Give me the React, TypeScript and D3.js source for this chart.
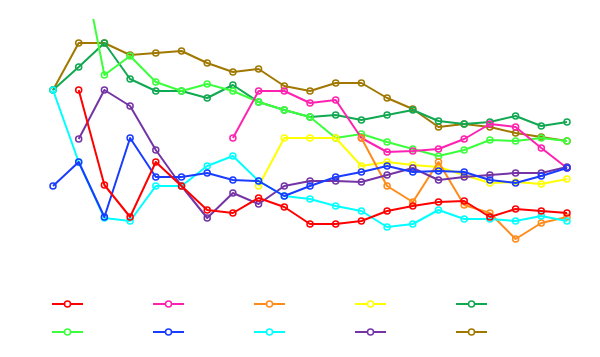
import React from "react";
import * as d3 from "d3";

const N = 21;
const xIndex: number[] = d3.range(N);

const red = [null,180,85,53,108,84,60,57,72,63,46,46,49,59,64,68,69,53,61,59,57];
const pink = [null,null,null,null,null,null,null,132,179,179,167,170,132,118,119,121,131,146,143,122,102];
const orange = [null,null,null,null,null,null,null,null,null,null,null,null,132,84,68,108,65,57,31,47,53];
const yellow = [null,null,null,null,null,null,null,null,84,132,132,132,104,108,105,103,95,87,88,86,91];
const darkGreen = [180,203,227,191,179,179,172,185,168,160,153,155,150,155,160,149,146,148,154,144,148];
const lightGreen = [null,325,195,214,188,179,186,179,168,160,153,132,136,128,121,114,120,130,129,132,129];
const blue = [84,108,53,132,93,93,97,90,89,74,84,93,98,104,98,99,98,90,87,94,102];
const cyan = [180,108,52,49,84,84,104,114,89,74,71,64,59,43,46,60,51,51,49,54,49];
const purple = [null,131,180,164,120,84,52,77,66,84,89,89,88,95,102,90,93,95,97,97,103];
const brown = [180,227,227,215,217,219,207,198,201,184,179,187,187,172,161,143,146,143,137,133,129];

const seriesNames = ["red","pink","orange","yellow","darkGreen","lightGreen","blue","cyan","purple","brown"];
const seriesColors = ["#ff0000","#ff22b0","#ff8c1a","#ffff00","#10a850","#3cff3c","#1a3cff","#00ffff","#7434a6","#a07800"];
const seriesValues: (number | null)[][] = [red,pink,orange,yellow,darkGreen,lightGreen,blue,cyan,purple,brown];
// draw order (bottom to top)
const drawOrder = [9,4,5,1,3,2,8,7,6,0];

export default function App() {
  const W = 600, H = 357;
  const x = d3.scaleLinear().domain([0, N - 1]).range([53, 567]);
  const y = d3.scaleLinear().domain([0, 251]).range([270, 19]);
  const line = d3.line<[number, number | null]>()
    .defined(d => d[1] != null)
    .x(d => x(d[0]))
    .y(d => y(d[1] as number));

  const legendX = d3.scaleLinear().domain([0, 4]).range([52, 456]);
  const legendY = [304, 332];

  return (
    <svg width={W} height={H} style={{ position: "absolute", left: 0, top: 0 }}>
      <defs>
        <clipPath id="plotclip">
          <rect x={0} y={19} width={600} height={270} />
        </clipPath>
      </defs>
      <g clipPath="url(#plotclip)">
        {drawOrder.map(si => {
          const vals = seriesValues[si];
          const pts: [number, number | null][] = xIndex.map(i => [i, vals[i]]);
          return (
            <g key={seriesNames[si]}>
              <path d={line(pts) || ""} fill="none" stroke={seriesColors[si]} strokeWidth={2} strokeLinejoin="round" />
              {pts.filter(p => p[1] != null).map(p => (
                <circle key={p[0]} cx={x(p[0])} cy={y(p[1] as number)} r={3} fill="none" stroke={seriesColors[si]} strokeWidth={1.5} />
              ))}
            </g>
          );
        })}
      </g>
      <g>
        {seriesNames.map((n, si) => {
          const col = si % 5;
          const row = Math.floor(si / 5);
          const lx = legendX(col);
          const ly = legendY[row];
          return (
            <g key={n}>
              <line x1={lx} x2={lx + 31} y1={ly} y2={ly} stroke={seriesColors[si]} strokeWidth={2} />
              <circle cx={lx + 15.5} cy={ly} r={3} fill="#fff" stroke={seriesColors[si]} strokeWidth={1.5} />
            </g>
          );
        })}
      </g>
    </svg>
  );
}
